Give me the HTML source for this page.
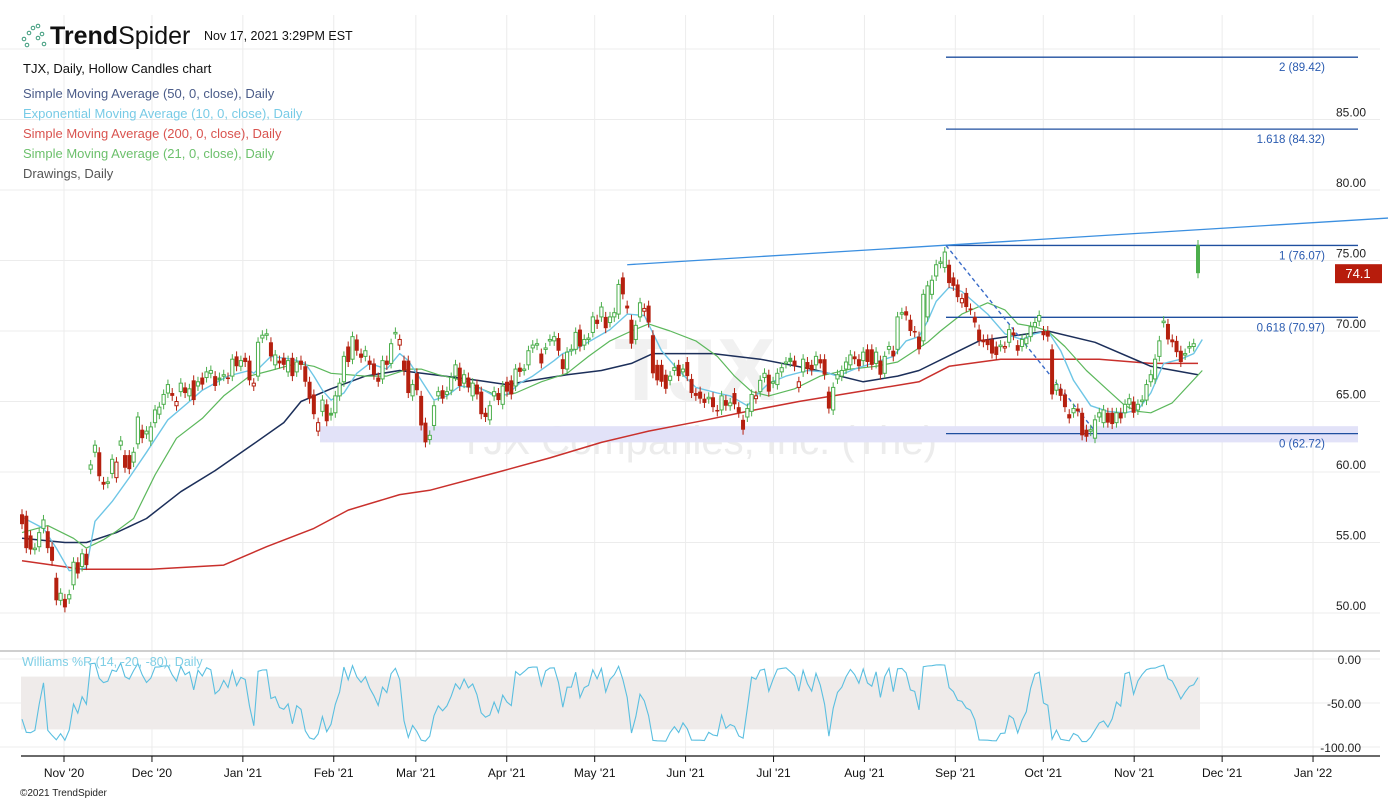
<!DOCTYPE html>
<html><head><meta charset="utf-8"><style>
html,body{margin:0;padding:0;background:#fff;}
body{width:1391px;height:802px;overflow:hidden;position:relative;font-family:"Liberation Sans",sans-serif;}
svg{position:absolute;left:0;top:0;}
</style></head><body>
<svg id="chart" width="1391" height="802" xmlns="http://www.w3.org/2000/svg"></svg>
<script>
// ---- data ----
const opens=[57.0,56.9,55.5,54.5,54.7,56.0,55.8,54.7,52.5,50.9,51.0,51.0,52.0,53.6,53.3,54.2,60.2,61.4,61.4,59.3,59.2,59.9,59.6,61.9,61.2,61.2,60.7,62.0,63.0,62.7,62.2,63.5,64.1,64.8,65.6,65.6,64.7,65.7,66.0,65.4,66.5,66.1,66.7,66.7,67.0,66.8,66.7,66.8,66.7,66.8,68.2,67.5,68.1,67.9,66.1,66.8,69.5,69.7,69.2,67.6,67.9,68.1,67.1,68.1,67.1,67.9,67.5,66.4,65.5,
62.9,64.3,64.8,64.2,64.2,65.4,66.4,68.9,68.0,69.4,68.4,68.2,67.9,67.7,66.7,66.6,67.9,67.7,69.8,69.0,67.9,67.9,65.4,67.0,65.4,63.5,62.3,63.3,65.4,65.8,65.5,65.8,66.8,67.4,66.3,66.7,65.4,66.2,65.7,64.2,63.7,65.4,65.6,64.8,66.4,66.5,66.1,67.4,67.2,67.6,68.8,69.0,68.4,68.7,69.3,69.3,69.5,68.0,67.3,68.6,68.7,70.1,69.0,69.4,69.9,70.8,71.0,71.0,70.6,71.0,71.2,73.8,71.8,70.8,69.4,
71.0,71.4,71.8,69.7,67.6,67.6,66.9,66.5,67.2,67.6,67.1,67.8,66.6,65.6,65.7,65.2,65.2,65.3,64.4,64.4,65.1,64.7,65.6,64.6,63.7,63.9,64.3,65.2,65.7,66.7,66.9,66.3,66.2,67.1,67.7,68.1,67.9,66.0,67.1,67.8,67.6,67.6,68.0,68.0,65.7,64.4,66.6,66.8,67.3,67.6,68.2,68.0,67.9,68.7,68.7,67.7,67.9,67.0,68.7,68.6,68.7,71.2,71.4,70.8,70.0,69.6,69.3,71.0,
72.6,73.9,74.8,74.5,74.7,73.8,73.3,72.0,72.7,71.6,71.0,70.1,69.4,69.4,69.4,68.9,68.9,68.8,69.2,69.9,69.0,68.9,69.1,69.6,70.3,70.7,70.0,70.0,68.7,65.8,65.9,65.5,64.1,64.2,64.5,64.2,63.0,62.9,62.4,63.9,63.5,64.2,64.2,63.5,64.2,64.2,64.8,65.0,64.4,65.0,65.1,66.4,66.6,68.2,70.6,70.5,69.4,69.3,68.6,68.3,68.8,68.9,76.1];
const closes=[56.3,54.6,54.5,54.6,55.7,56.6,54.6,53.7,50.9,51.4,50.4,51.3,53.6,52.8,54.2,53.4,60.5,61.9,59.7,59.1,59.3,60.9,60.7,62.2,60.3,60.2,61.4,63.9,62.4,62.9,63.2,64.4,64.6,65.5,66.2,65.4,65.0,66.3,65.6,65.9,65.1,66.4,66.2,67.1,67.2,66.1,66.5,66.9,66.6,68.0,67.5,67.9,67.8,66.5,66.3,69.2,69.7,69.8,68.2,68.3,67.7,67.6,67.9,66.8,67.8,67.6,66.4,65.2,64.1,
63.5,65.1,63.6,64.0,65.4,66.3,68.2,67.8,69.6,68.6,68.1,68.6,67.6,66.9,66.4,67.9,67.6,69.1,69.9,69.4,67.2,65.6,66.2,65.8,63.3,62.1,62.6,64.7,65.7,65.2,65.7,66.7,67.6,66.1,66.9,66.0,66.3,65.5,64.1,63.9,64.7,65.7,65.1,66.1,65.7,65.5,67.3,67.1,67.3,68.6,69.0,69.1,67.7,68.8,69.4,69.6,68.6,67.3,68.5,68.7,69.9,68.9,69.4,69.5,71.0,70.5,71.7,70.2,71.0,71.3,73.3,72.6,71.6,69.1,70.4,
72.0,71.6,70.6,67.0,66.5,66.4,65.9,66.8,67.4,66.8,67.3,66.8,65.6,65.4,65.2,64.9,65.3,64.6,64.3,65.4,64.7,64.9,64.8,64.2,63.0,64.5,65.5,65.4,66.5,67.0,65.7,66.4,67.0,67.4,67.8,67.8,67.5,66.4,68.0,67.3,67.2,68.2,67.7,66.9,64.5,66.0,66.9,67.2,67.8,68.3,68.0,67.5,68.5,67.8,67.6,68.5,66.9,68.2,68.9,68.2,71.0,71.3,71.1,70.0,69.9,68.7,72.6,73.2,
73.6,74.7,74.9,75.6,73.4,73.2,72.4,72.3,71.7,71.5,70.6,69.3,69.2,69.0,68.4,68.3,69.0,68.9,70.1,69.7,68.6,69.4,69.5,70.3,70.6,71.1,69.7,69.6,65.5,66.2,65.4,64.6,63.8,64.5,64.3,62.6,62.5,63.0,63.7,64.2,64.4,63.5,63.4,64.2,63.8,64.8,65.2,64.2,64.8,65.1,66.2,66.9,68.0,69.3,70.7,69.4,69.2,68.5,67.8,68.4,68.9,69.1,74.1];
// moving averages: candle index -> value
const sma50Idx=[0,10,15,22,29,37,45,54,61,65,72,80,88,96,106,113,119,127,135,142,147,161,172,184,196,204,209,217,223,232,239,250,263,274];
const sma50Val=[55.3,55.0,55.0,55.7,56.7,58.6,60.1,62.0,63.5,65.0,65.9,66.8,67.2,66.9,66.5,66.2,66.5,66.9,67.2,67.7,68.4,68.4,68.0,67.3,66.4,66.8,67.2,68.4,69.3,69.7,70.0,69.2,67.5,66.9];
const ema10Idx=[0,5,8,11,15,17,21,25,29,34,39,42,48,53,54,58,63,66,68,70,72,75,78,81,85,88,90,93,96,99,102,107,110,113,116,119,124,126,129,133,137,141,145,149,153,157,162,165,169,171,174,178,183,187,190,194,199,203,206,209,211,213,216,219,225,229,233,236,239,242,245,249,253,257,260,263,266,270,273,275];
const ema10Val=[56.8,56.0,54.6,53.0,53.2,56.5,57.9,59.6,61.4,63.7,65.0,65.8,66.8,67.2,67.0,68.2,68.0,67.7,66.8,65.8,65.1,65.6,67.0,67.7,67.3,68.4,67.9,66.5,65.1,65.4,66.1,65.9,65.4,65.5,66.3,66.8,67.9,68.4,68.7,69.4,70.1,71.2,71.1,68.6,67.2,66.0,65.6,65.4,64.7,65.4,66.3,66.8,67.2,67.1,66.8,67.3,67.8,68.2,69.3,69.6,70.7,72.1,73.1,72.8,71.2,69.8,69.4,69.8,70.0,68.6,66.5,64.7,64.3,64.2,64.4,65.6,67.7,68.0,68.4,69.4];
const sma21Idx=[0,6,12,15,19,22,26,31,36,42,47,53,58,64,68,72,80,85,90,93,97,104,107,111,115,121,127,132,137,142,146,151,157,162,166,170,174,180,186,193,199,204,207,211,214,219,225,229,232,236,239,243,248,253,257,260,263,268,275];
const sma21Val=[55.7,56.2,55.3,54.6,55.2,55.8,56.7,59.8,62.4,63.8,65.4,66.8,67.2,67.7,67.5,67.0,66.8,66.8,67.3,67.3,66.9,66.4,65.9,65.4,65.6,66.4,67.0,68.2,69.3,70.0,70.5,70.0,69.3,68.2,66.8,65.7,65.4,65.9,66.8,67.3,67.5,67.8,68.4,69.2,70.0,71.2,72.0,71.5,70.5,70.3,70.0,68.9,67.2,65.8,64.7,64.3,64.2,64.9,67.2];
const sma200Idx=[0,14,30,47,57,68,76,88,95,111,123,135,146,158,169,181,193,209,216,228,240,251,263,274];
const sma200Val=[53.7,53.1,53.1,53.4,54.7,56.0,57.3,58.4,58.7,60.0,61.0,62.1,62.9,63.6,64.3,65.0,65.6,66.4,67.5,68.0,68.0,68.0,67.7,67.7];
const priceTicks=[50,55,60,65,70,75,80,85];
const gridPrices=[50,55,60,65,70,75,80,85,90];
const wrTicks=[0,-50,-100];
const fibRatios=["2","1.618","1","0.618","0"];
const fibPrices=[89.42,84.32,76.07,70.97,62.72];
const months=["Nov '20","Dec '20","Jan '21","Feb '21","Mar '21","Apr '21","May '21","Jun '21","Jul '21","Aug '21","Sep '21","Oct '21","Nov '21","Dec '21","Jan '22"];
const monthDays=[0,30,61,92,120,151,181,212,242,273,304,334,365,395,426]; // days since Nov 1 2020
const trendA=[141,74.7], trendB=[216,76.1];
const lastPrice=74.1;
const wickPad=0.6; // approximate intraday range beyond body (price units)

// ---- scales ----
const N=closes.length;
const xI=i=>22+i*(1176/(N-1));
const yP=p=>119.5+(85-p)*14.1;
const yW=v=>659+(-v)*0.88;
const xD=d=>64+d*2.932;
const R=1380;

const svg=document.getElementById('chart');
const NS='http://www.w3.org/2000/svg';
function mk(tag,attrs,parent){const e=document.createElementNS(NS,tag);for(const k in attrs)e.setAttribute(k,attrs[k]);(parent||svg).appendChild(e);return e;}
function txt(s,attrs,parent){const e=mk('text',attrs,parent);e.textContent=s;return e;}

// grid
const grid=mk('g',{});


monthDays.forEach(d=>{mk('line',{x1:xD(d),x2:xD(d),y1:15,y2:756,stroke:'#ececec','stroke-width':1},grid);});
gridPrices.forEach(p=>{mk('line',{x1:0,x2:R,y1:yP(p),y2:yP(p),stroke:'#ececec','stroke-width':1},grid);});
wrTicks.forEach(v=>{mk('line',{x1:0,x2:R,y1:yW(v),y2:yW(v),stroke:'#ececec','stroke-width':1},grid);});

// watermark
const wm=mk('g',{});


txt('TJX',{x:695,y:400,'text-anchor':'middle','font-size':88,'font-weight':'bold',fill:'#f1f1f1','font-family':'Liberation Sans, sans-serif'},wm);
const band=mk('rect',{x:320,y:yP(63.25),width:1038,height:yP(62.1)-yP(63.25),fill:'#e2e2f8'});


txt('TJX Companies, Inc. (The)',{x:698,y:454,'text-anchor':'middle','font-size':40,fill:'#ececec','font-family':'Liberation Sans, sans-serif'},wm);

// moving averages
function maLine(idx,vals,color,name,w){
  const d=idx.map((i,k)=>(k?'L':'M')+xI(i).toFixed(1)+','+yP(vals[k]).toFixed(1)).join(' ');
  const p=mk('path',{d:d,fill:'none',stroke:color,'stroke-width':w||1.4,'stroke-linejoin':'round'});
  
  
}
maLine(sma200Idx,sma200Val,'#c9302c','sma-200-line',1.5);
maLine(sma50Idx,sma50Val,'#1c2f5a','sma-50-line',1.5);
maLine(sma21Idx,sma21Val,'#5cb85c','sma-21-line',1.2);
maLine(ema10Idx,ema10Val,'#6ec6e6','ema-10-line',1.4);

// drawings
const dr=mk('g',{});


fibPrices.forEach((p,k)=>{
  const l=mk('line',{x1:946,x2:1358,y1:yP(p),y2:yP(p),stroke:'#1f4f9f','stroke-width':1.3},dr);
  
  
  const t=txt(fibRatios[k]+' ('+p.toFixed(2)+')',{x:1325,y:yP(p)+14,'text-anchor':'end','font-size':11.5,fill:'#2a5bb0'},dr);
  
  
});
{
  const xa=xI(trendA[0]),ya=yP(trendA[1]),xb=xI(trendB[0]),yb=yP(trendB[1]);
  const s=(yb-ya)/(xb-xa);const xe=1388;
  const l=mk('line',{x1:xa,y1:ya,x2:xe,y2:ya+s*(xe-xa),stroke:'#3b8fe0','stroke-width':1.3},dr);
  
  
  const dl=mk('line',{x1:946,y1:yP(fibPrices[2]),x2:1097,y2:yP(fibPrices[4]),stroke:'#3a6cc8','stroke-width':1.4,'stroke-dasharray':'4,3'},dr);
  
  
}

// candles
const cg=mk('g',{});


for(let i=0;i<N;i++){
  const o=opens[i],c=closes[i];
  const up=i===0?false:c>=closes[i-1];
  const col=up?'#4cae4c':'#b5200f';
  const x=xI(i);
  const top=yP(Math.max(o,c)),bot=yP(Math.min(o,c));
  const g=mk('g',{},cg);
  
  
  mk('line',{x1:x,x2:x,y1:top-5,y2:bot+5,stroke:col,'stroke-width':1},g);
  const h=Math.max(bot-top,1.5);
  if(c>o){mk('rect',{x:x-1.6,y:top,width:3.2,height:h,fill:'#fff',stroke:col,'stroke-width':1},g);}
  else{mk('rect',{x:x-2,y:top,width:4,height:h,fill:col},g);}
}

// Williams %R (14) using approximate highs/lows
const wrVals=[];
for(let i=0;i<N;i++){
  let hi=-1e9,lo=1e9;
  for(let j=Math.max(0,i-13);j<=i;j++){hi=Math.max(hi,Math.max(opens[j],closes[j])+wickPad);lo=Math.min(lo,Math.min(opens[j],closes[j])-wickPad);}
  wrVals.push(-100*(hi-closes[i])/(hi-lo));
}
const wb=mk('rect',{x:21,y:yW(-20),width:1179,height:yW(-80)-yW(-20),fill:'#efebea'});


const wl=mk('path',{d:wrVals.map((v,i)=>(i?'L':'M')+xI(i).toFixed(1)+','+yW(v).toFixed(1)).join(' '),fill:'none',stroke:'#5bbfe0','stroke-width':1.1});


const wt=txt('Williams %R (14, -20, -80), Daily',{x:22,y:666,'font-size':12.5,fill:'#7fcfe6'});


wrTicks.forEach(v=>{const t=txt(v.toFixed(2),{x:1361,y:yW(v)+5,'text-anchor':'end','font-size':12,fill:'#222'});

});

// panel separator + axis
const sep=mk('rect',{x:0,y:650,width:R,height:2,fill:'#cfcfcf'});


const ax=mk('line',{x1:21,x2:R,y1:756,y2:756,stroke:'#111','stroke-width':1.2});


months.forEach((m,k)=>{
  const x=xD(monthDays[k]);
  mk('line',{x1:x,x2:x,y1:756,y2:762,stroke:'#111'});
  const t=txt(m,{x:x,y:777,'text-anchor':'middle','font-size':12,fill:'#111'});
  
  
});
priceTicks.forEach(p=>{const t=txt(p.toFixed(2),{x:1366,y:yP(p)-3,'text-anchor':'end','font-size':12,fill:'#222'});

});
const lp=mk('g',{});


mk('rect',{x:1335,y:yP(lastPrice)-9,width:47,height:19,fill:'#b71c0c'},lp);
txt(lastPrice.toFixed(1),{x:1358,y:yP(lastPrice)+5,'text-anchor':'middle','font-size':13,fill:'#fff'},lp);

// header
const hd=mk('g',{});


[[24,39],[29,33],[33,28],[38,38],[42,34],[38,26],[27,45],[44,44]].forEach(([x,y])=>mk('circle',{cx:x,cy:y,r:1.8,fill:'none',stroke:'#3a9a7a','stroke-width':1},hd));
const logo=txt('',{x:50,y:44,'font-size':25,fill:'#111'},hd);


const t1=mk('tspan',{'font-weight':'bold'},logo);t1.textContent='Trend';
const t2=mk('tspan',{'font-weight':'normal'},logo);t2.textContent='Spider';
txt('Nov 17, 2021 3:29PM EST',{x:204,y:40,'font-size':12.5,fill:'#111'},hd);
const leg=[['TJX, Daily, Hollow Candles chart','#111',73],['Simple Moving Average (50, 0, close), Daily','#4a5b88',98],['Exponential Moving Average (10, 0, close), Daily','#78cbe6',118],['Simple Moving Average (200, 0, close), Daily','#d9534f',138],['Simple Moving Average (21, 0, close), Daily','#6cc06c',158],['Drawings, Daily','#555',178]];
leg.forEach(([s,c,y])=>{const t=txt(s,{x:23,y:y,'font-size':13,fill:c},hd);

});
const cp=txt('©2021 TrendSpider',{x:20,y:796,'font-size':10,fill:'#222'});


</script>
</body></html>
